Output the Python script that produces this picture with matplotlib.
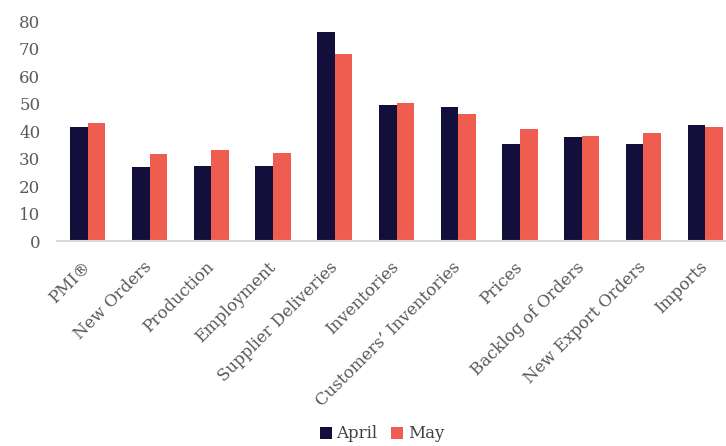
import matplotlib
matplotlib.use("Agg")
import matplotlib.pyplot as plt
import numpy as np

categories = ["PMI®", "New Orders", "Production", "Employment",
              "Supplier Deliveries", "Inventories", "Customers’ Inventories",
              "Prices", "Backlog of Orders", "New Export Orders", "Imports"]
april = [41.5, 27.1, 27.5, 27.5, 76.0, 49.7, 48.8, 35.3, 37.8, 35.3, 42.4]
may = [43.1, 31.8, 33.2, 32.1, 68.0, 50.4, 46.2, 40.8, 38.2, 39.5, 41.7]
yticks = [0, 10, 20, 30, 40, 50, 60, 70, 80]

navy = "#120f3b"
coral = "#ee5d4f"
text_col = "#595959"

plt.rcParams["font.family"] = ["DejaVu Serif"]

fig = plt.figure(figsize=(7.26, 4.46), dpi=100)
left = 57 / 726
width = (736 - 57) / 726
bottom = (446 - 241) / 446
height = (241 - 21.5) / 446
ax = fig.add_axes([left, bottom, width, height])

x = np.arange(len(categories))
w = 0.285
ax.bar(x - w / 2, april, width=w, color=navy, label="April", zorder=2)
ax.bar(x + w / 2, may, width=w, color=coral, label="May", zorder=2)

ax.set_xlim(-0.5, len(categories) - 0.5)
ax.set_ylim(0, 80)
ax.set_yticks(yticks)
ax.set_yticklabels([str(v) for v in yticks], fontsize=12, color=text_col)
ax.tick_params(axis="y", length=0, pad=12)
ax.tick_params(axis="x", length=0, pad=17)

ax.set_xticks(x)
ax.set_xticklabels(categories, rotation=45, ha="right", va="center",
                   rotation_mode="anchor", fontsize=12, color=text_col)

for side in ["top", "right", "left"]:
    ax.spines[side].set_visible(False)
ax.spines["bottom"].set_color("#d9d9d9")
ax.spines["bottom"].set_linewidth(1.5)

fig.legend(loc="center", bbox_to_anchor=(382 / 726, 1 - 434 / 446),
           ncol=2, frameon=False, fontsize=12, handlelength=0.7,
           handleheight=0.7, handletextpad=0.3, columnspacing=0.8,
           labelcolor="#404040")

fig.savefig("out.png", dpi=100)
